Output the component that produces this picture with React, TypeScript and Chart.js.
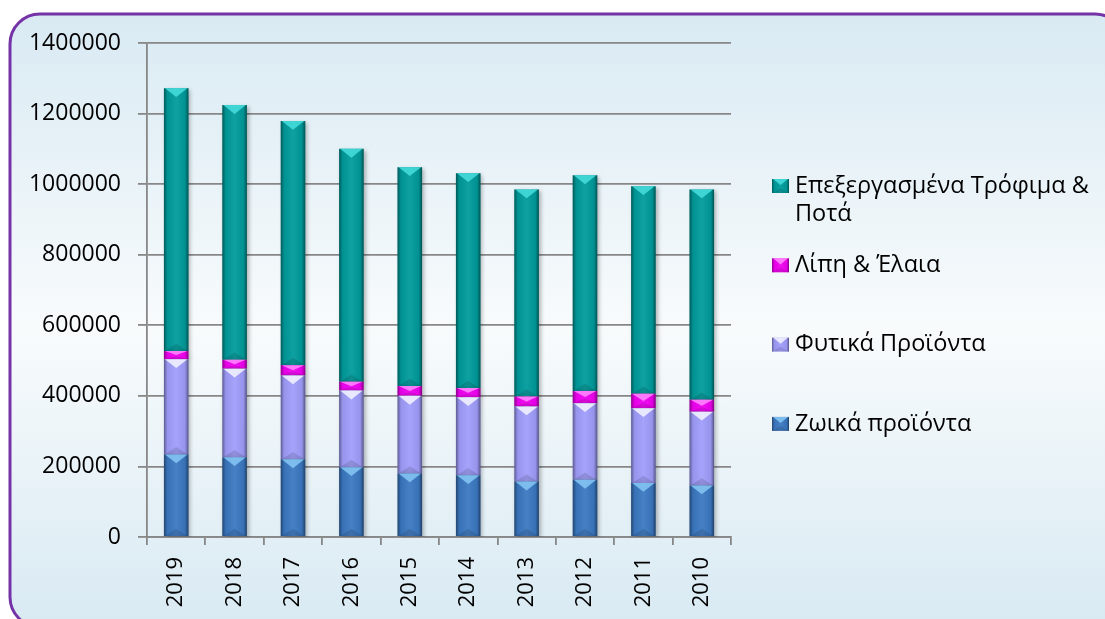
import { useEffect, useRef } from 'react';
import { Chart, registerables } from 'chart.js';

Chart.register(...registerables);

// ---- data ----
const categories = ['2019', '2018', '2017', '2016', '2015', '2014', '2013', '2012', '2011', '2010'];
const animalProducts = [234000, 226000, 220000, 198000, 180000, 175000, 157000, 162000, 153000, 146000];
const plantProducts = [270000, 251000, 238000, 217000, 220000, 221000, 213000, 217000, 212000, 209000];
const fatsOils = [23000, 25000, 29000, 25000, 28000, 26000, 28000, 35000, 41000, 34000];
const processedFoods = [745000, 722000, 692000, 660000, 620000, 609000, 587000, 611000, 588000, 596000];
const seriesNames = ['Ζωικά προϊόντα', 'Φυτικά Προϊόντα', 'Λίπη & Έλαια', 'Επεξεργασμένα Τρόφιμα & Ποτά'];
const yMin = 0;
const yMax = 1400000;
const yStep = 200000;

// ---- styles ----
const FONT = '"Open Sans", "Noto Sans", sans-serif';
const baseColors = ['#3b78c1', '#a09dfb', '#f200f2', '#009b9b'];
const bevelColors = ['#86c8f6', '#f4f4ff', '#ff8cff', '#48dede'];
const gridColor = '#878787';

function roundRectPath(ctx: CanvasRenderingContext2D, x: number, y: number, w: number, h: number, r: number) {
  ctx.beginPath();
  ctx.moveTo(x + r, y);
  ctx.lineTo(x + w - r, y);
  ctx.arcTo(x + w, y, x + w, y + r, r);
  ctx.lineTo(x + w, y + h - r);
  ctx.arcTo(x + w, y + h, x + w - r, y + h, r);
  ctx.lineTo(x + r, y + h);
  ctx.arcTo(x, y + h, x, y + h - r, r);
  ctx.lineTo(x, y + r);
  ctx.arcTo(x, y, x + r, y, r);
  ctx.closePath();
}

const backgroundPlugin = {
  id: 'panelBackground',
  beforeDraw(chart: any) {
    const ctx = chart.ctx as CanvasRenderingContext2D;
    const W = chart.width;
    const H = chart.height;
    ctx.save();
    ctx.fillStyle = '#ffffff';
    ctx.fillRect(0, 0, W, H);
    const x = 10, y = 14, w = W + 20 - x, h = H + 8 - y;
    roundRectPath(ctx, x, y, w, h, 30);
    const g = ctx.createLinearGradient(0, y, 0, H);
    g.addColorStop(0, '#d9eaf3');
    g.addColorStop(0.52, '#f8fbfc');
    g.addColorStop(1, '#d9eaf3');
    ctx.fillStyle = g;
    ctx.fill();
    ctx.lineWidth = 3;
    ctx.strokeStyle = '#7433a6';
    ctx.stroke();
    ctx.restore();
  },
};

const shadowPlugin = {
  id: 'barShadow',
  beforeDatasetsDraw(chart: any) {
    const ctx = chart.ctx as CanvasRenderingContext2D;
    ctx.save();
    ctx.shadowColor = 'rgba(0,0,0,0.28)';
    ctx.shadowBlur = 4;
    ctx.shadowOffsetX = 2;
    ctx.shadowOffsetY = 2;
  },
  afterDatasetsDraw(chart: any) {
    chart.ctx.restore();
  },
};

function bevelRect(ctx: CanvasRenderingContext2D, left: number, top: number, width: number, height: number, bevel: string) {
  if (height <= 0.5) return;
  const right = left + width;
  const cx = left + width / 2;
  const hg = ctx.createLinearGradient(left, 0, right, 0);
  hg.addColorStop(0, 'rgba(0,0,0,0.42)');
  hg.addColorStop(0.14, 'rgba(0,0,0,0.06)');
  hg.addColorStop(0.5, 'rgba(255,255,255,0.06)');
  hg.addColorStop(0.86, 'rgba(0,0,0,0.06)');
  hg.addColorStop(1, 'rgba(0,0,0,0.46)');
  ctx.fillStyle = hg;
  ctx.fillRect(left, top, width, height);
  const depth = Math.min(width * 0.36, height * 0.5);
  ctx.beginPath();
  ctx.moveTo(left + 1, top);
  ctx.lineTo(right - 1, top);
  ctx.lineTo(cx, top + depth);
  ctx.closePath();
  ctx.globalAlpha = 0.85;
  ctx.fillStyle = bevel;
  ctx.fill();
  ctx.globalAlpha = 1;
  const bd = Math.min(width * 0.3, height * 0.4);
  ctx.beginPath();
  ctx.moveTo(left + 1, top + height);
  ctx.lineTo(right - 1, top + height);
  ctx.lineTo(cx, top + height - bd);
  ctx.closePath();
  ctx.fillStyle = 'rgba(0,0,0,0.12)';
  ctx.fill();
}

const bevelPlugin = {
  id: 'barBevel',
  afterDatasetsDraw(chart: any) {
    const ctx = chart.ctx as CanvasRenderingContext2D;
    ctx.save();
    chart.data.datasets.forEach((_ds: any, i: number) => {
      const meta = chart.getDatasetMeta(i);
      meta.data.forEach((el: any) => {
        const p = el.getProps(['x', 'y', 'base', 'width'], true);
        const top = Math.min(p.y, p.base);
        const bottom = Math.max(p.y, p.base);
        bevelRect(ctx, p.x - p.width / 2, top, p.width, bottom - top, bevelColors[i]);
      });
    });
    ctx.restore();
  },
};

function wrapText(ctx: CanvasRenderingContext2D, text: string, maxWidth: number): string[] {
  const words = text.split(' ');
  const lines: string[] = [];
  let cur = '';
  for (const w of words) {
    const test = cur ? cur + ' ' + w : w;
    if (ctx.measureText(test).width > maxWidth && cur) {
      lines.push(cur);
      cur = w;
    } else {
      cur = test;
    }
  }
  if (cur) lines.push(cur);
  return lines;
}

const legendPlugin = {
  id: 'sideLegend',
  afterDraw(chart: any) {
    const ctx = chart.ctx as CanvasRenderingContext2D;
    const area = chart.chartArea;
    const markerX = area.right + 41;
    const textX = area.right + 64;
    const maxW = chart.width - textX - 4;
    const lineH = 28;
    const gap = 79.3;
    const startY = 186;
    ctx.save();
    ctx.font = `23.5px ${FONT}`;
    ctx.textBaseline = 'middle';
    ctx.textAlign = 'left';
    const order = chart.data.datasets.map((_d: any, i: number) => i).reverse();
    order.forEach((dsIndex: number, k: number) => {
      const y = startY + k * gap;
      const mw = 17, mh = 14;
      ctx.fillStyle = baseColors[dsIndex];
      ctx.fillRect(markerX, y - mh / 2, mw, mh);
      bevelRect(ctx, markerX, y - mh / 2, mw, mh, bevelColors[dsIndex]);
      ctx.fillStyle = '#000000';
      const lines = wrapText(ctx, chart.data.datasets[dsIndex].label, maxW);
      lines.forEach((ln, j) => ctx.fillText(ln, textX, y + j * lineH));
    });
    ctx.restore();
  },
};

export default function App() {
  const canvasRef = useRef<HTMLCanvasElement | null>(null);

  useEffect(() => {
    if (!canvasRef.current) return;
    const seriesValues = [animalProducts, plantProducts, fatsOils, processedFoods];
    const chart = new Chart(canvasRef.current, {
      type: 'bar',
      data: {
        labels: categories,
        datasets: seriesValues.map((vals, i) => ({
          label: seriesNames[i],
          data: vals,
          backgroundColor: baseColors[i],
          borderWidth: 0,
          barPercentage: 0.42,
          categoryPercentage: 1,
        })),
      },
      options: {
        animation: false,
        responsive: true,
        maintainAspectRatio: false,
        layout: { padding: { left: 0, top: 43, right: 374, bottom: 0 } },
        plugins: {
          legend: { display: false },
          tooltip: { enabled: false },
          title: { display: false },
        },
        scales: {
          x: {
            stacked: true,
            offset: true,
            grid: {
              display: true,
              drawOnChartArea: false,
              drawTicks: true,
              tickLength: 8,
              color: gridColor,
              lineWidth: 1.8,
              offset: true,
            },
            border: { display: true, color: gridColor, width: 1.8 },
            ticks: {
              minRotation: 90,
              maxRotation: 90,
              autoSkip: false,
              padding: 12,
              color: '#000000',
              font: { family: FONT, size: 22 },
            },
            afterFit: (s: any) => { s.height = 82; },
          },
          y: {
            stacked: true,
            min: yMin,
            max: yMax,
            grid: {
              color: gridColor,
              lineWidth: 1.8,
              tickLength: 9,
            },
            border: { display: true, color: gridColor, width: 1.8 },
            ticks: {
              stepSize: yStep,
              padding: 17,
              color: '#000000',
              font: { family: FONT, size: 23 },
              callback: (v: any) => String(v),
            },
            afterFit: (s: any) => { s.width = 147; },
          },
        },
      },
      plugins: [backgroundPlugin, shadowPlugin, bevelPlugin, legendPlugin],
    });
    return () => chart.destroy();
  }, []);

  return (
    <div style={{ position: 'fixed', left: 0, top: 0, width: 1105, height: 619 }}>
      <canvas ref={canvasRef} />
    </div>
  );
}
